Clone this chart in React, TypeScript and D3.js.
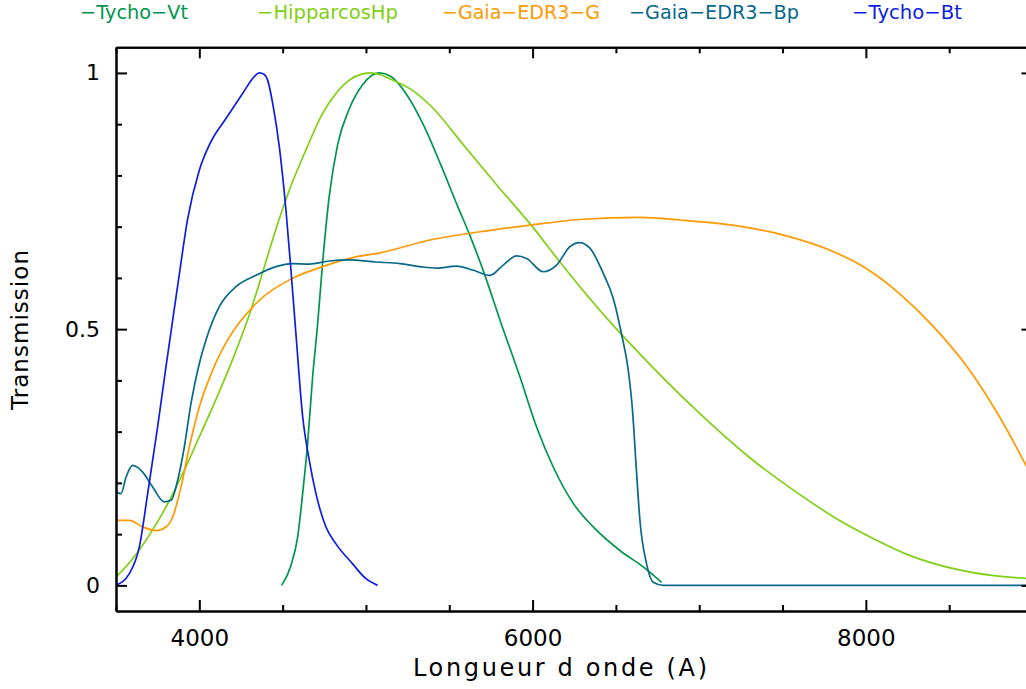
import React, { useEffect, useRef } from "react";
import * as d3 from "d3";

type Pt = [number, number];

// wavelength (A), transmission
const tychoVt: Pt[] = [
  [4494, 0], [4550, 0.039], [4590, 0.094], [4620, 0.179], [4650, 0.277], [4680, 0.407],
  [4710, 0.51], [4740, 0.63], [4780, 0.76], [4830, 0.86], [4900, 0.93], [4980, 0.977],
  [5080, 1.0], [5150, 0.993], [5250, 0.955], [5350, 0.895], [5450, 0.82], [5550, 0.74],
  [5620, 0.686], [5714, 0.605], [5804, 0.518], [5924, 0.407], [6024, 0.309], [6124, 0.231],
  [6244, 0.16], [6364, 0.114], [6524, 0.068], [6664, 0.036], [6774, 0.006],
];

const hipparcosHp: Pt[] = [
  [3500, 0.016], [3600, 0.052], [3700, 0.098], [3800, 0.153], [3900, 0.218], [4000, 0.29],
  [4100, 0.363], [4200, 0.441], [4300, 0.528], [4400, 0.632], [4440, 0.675], [4540, 0.771],
  [4640, 0.85], [4740, 0.921], [4820, 0.96], [4900, 0.986], [4980, 0.998], [5030, 1.0],
  [5080, 0.997], [5160, 0.986], [5284, 0.965], [5394, 0.934], [5594, 0.856], [5794, 0.778],
  [5994, 0.702], [6164, 0.631], [6454, 0.518], [6564, 0.479], [7004, 0.335], [7300, 0.25],
  [7600, 0.178], [7850, 0.125], [8064, 0.088], [8250, 0.06], [8404, 0.043], [8644, 0.025],
  [8944, 0.014], [9000, 0.013],
];

const gaiaG: Pt[] = [
  [3500, 0.127], [3580, 0.127], [3660, 0.114], [3740, 0.107], [3800, 0.114], [3840, 0.133],
  [3890, 0.192], [3940, 0.27], [4000, 0.348], [4080, 0.42], [4170, 0.479], [4340, 0.55],
  [4540, 0.596], [4740, 0.622], [4940, 0.641], [5084, 0.649], [5384, 0.674], [5684, 0.69],
  [5984, 0.703], [6284, 0.714], [6644, 0.718], [6884, 0.713], [7200, 0.703], [7500, 0.684],
  [7800, 0.652], [8000, 0.619], [8200, 0.57], [8400, 0.507], [8600, 0.43], [8800, 0.33],
  [9000, 0.21],
];

const gaiaBp: Pt[] = [
  [3500, 0.182], [3530, 0.179], [3560, 0.211], [3600, 0.234], [3660, 0.221], [3720, 0.192],
  [3790, 0.163], [3830, 0.166], [3870, 0.205], [3910, 0.27], [3950, 0.355], [4000, 0.433],
  [4040, 0.479], [4120, 0.544], [4220, 0.583], [4340, 0.605], [4460, 0.622], [4560, 0.628],
  [4660, 0.627], [4780, 0.633], [4900, 0.635], [5060, 0.631], [5204, 0.628], [5324, 0.622],
  [5424, 0.619], [5544, 0.623], [5644, 0.615], [5744, 0.605], [5824, 0.625], [5904, 0.643],
  [5964, 0.638], [6064, 0.612], [6144, 0.625], [6224, 0.661], [6280, 0.669], [6344, 0.658],
  [6424, 0.609], [6484, 0.56], [6534, 0.49], [6574, 0.42], [6600, 0.34], [6620, 0.24],
  [6644, 0.127], [6684, 0.042], [6724, 0.006], [6784, 0], [9000, 0],
];

const tychoBt: Pt[] = [
  [3500, 0], [3580, 0.023], [3640, 0.075], [3690, 0.179], [3750, 0.31], [3800, 0.427],
  [3840, 0.517], [3880, 0.607], [3930, 0.715], [4000, 0.81], [4070, 0.866], [4160, 0.911],
  [4260, 0.96], [4330, 0.993], [4360, 1.0], [4390, 0.997], [4410, 0.986], [4440, 0.941],
  [4480, 0.856], [4520, 0.732], [4550, 0.615], [4580, 0.49], [4620, 0.33], [4660, 0.244],
  [4700, 0.179], [4760, 0.114], [4820, 0.081], [4920, 0.042], [5000, 0.013], [5070, 0],
];

const seriesNames = ["Tycho-Vt", "HipparcosHp", "Gaia-EDR3-G", "Gaia-EDR3-Bp", "Tycho-Bt"];
const seriesData = [tychoVt, hipparcosHp, gaiaG, gaiaBp, tychoBt];
const seriesColors = ["#00954e", "#7fd012", "#ff9900", "#07688a", "#0c1ee0"];

const xMajor = [4000, 6000, 8000];
const xMinor = [3500, 4500, 5000, 5500, 6500, 7000, 7500, 8500, 9000];
const yMajor = [0, 0.5, 1];
const yMinor = [0.1, 0.2, 0.3, 0.4, 0.6, 0.7, 0.8, 0.9];

const App = () => {
  const ref = useRef<SVGSVGElement>(null);

  useEffect(() => {
    const svg = d3.select(ref.current);
    svg.selectAll("*").remove();
    const font = "'DejaVu Sans', sans-serif";

    const x = d3.scaleLinear().domain([3500, 9000]).range([116, 1032.5]);
    const y = d3.scaleLinear().domain([-0.05, 1.05]).range([611, 47.3]);

    // curves
    const line = d3.line<Pt>()
      .x(d => x(d[0]))
      .y(d => y(d[1]))
      .curve(d3.curveMonotoneX);
    seriesData.forEach((data, i) => {
      svg.append("path")
        .datum(data)
        .attr("d", line)
        .attr("fill", "none")
        .attr("stroke", seriesColors[i])
        .attr("stroke-width", 1.7);
    });

    // frame + ticks
    const styleAxis = (g: any) => {
      g.selectAll("path").attr("stroke", "#000").attr("stroke-width", 2);
      g.selectAll("line").attr("stroke", "#000").attr("stroke-width", 2);
      g.selectAll("text").attr("font-family", font).attr("fill", "#000");
    };
    const noLabel = () => "";

    svg.append("g").attr("transform", `translate(0,${y(-0.05)})`)
      .call(d3.axisBottom(x).tickValues(xMajor).tickSize(-11).tickSizeOuter(0).tickPadding(19).tickFormat(d3.format("d")))
      .call(styleAxis)
      .selectAll("text").attr("font-size", 23);
    svg.append("g").attr("transform", `translate(0,${y(-0.05)})`)
      .call(d3.axisBottom(x).tickValues(xMinor).tickSize(-6).tickSizeOuter(0).tickFormat(noLabel))
      .call(styleAxis);
    svg.append("g").attr("transform", `translate(0,${y(1.05)})`)
      .call(d3.axisTop(x).tickValues(xMajor).tickSize(-11).tickSizeOuter(0).tickFormat(noLabel))
      .call(styleAxis);
    svg.append("g").attr("transform", `translate(0,${y(1.05)})`)
      .call(d3.axisTop(x).tickValues(xMinor).tickSize(-6).tickSizeOuter(0).tickFormat(noLabel))
      .call(styleAxis);

    svg.append("g").attr("transform", `translate(${x(3500)},0)`)
      .call(d3.axisLeft(y).tickValues(yMajor).tickSize(-11).tickSizeOuter(0).tickPadding(16).tickFormat(d => String(d)))
      .call(styleAxis)
      .selectAll("text").attr("font-size", 22);
    svg.append("g").attr("transform", `translate(${x(3500)},0)`)
      .call(d3.axisLeft(y).tickValues(yMinor).tickSize(-6).tickSizeOuter(0).tickFormat(noLabel))
      .call(styleAxis);
    svg.append("g").attr("transform", `translate(${x(9000)},0)`)
      .call(d3.axisRight(y).tickValues(yMajor).tickSize(-11).tickSizeOuter(0).tickFormat(noLabel))
      .call(styleAxis);
    svg.append("g").attr("transform", `translate(${x(9000)},0)`)
      .call(d3.axisRight(y).tickValues(yMinor).tickSize(-6).tickSizeOuter(0).tickFormat(noLabel))
      .call(styleAxis);

    // axis titles
    svg.append("text")
      .attr("x", 413).attr("y", 676)
      .attr("font-family", font).attr("font-size", 24)
      .attr("textLength", 294).attr("lengthAdjust", "spacing")
      .text("Longueur d onde (A)");
    svg.append("text")
      .attr("transform", "translate(28,410) rotate(-90)")
      .attr("font-family", font).attr("font-size", 23)
      .attr("textLength", 160).attr("lengthAdjust", "spacing")
      .text("Transmission");

    // legend
    const legendX = [80, 257, 442, 629, 852];
    const legendW = [108, 141, 158, 170, 110];
    seriesNames.forEach((name, i) => {
      svg.append("text")
        .attr("x", legendX[i]).attr("y", 19)
        .attr("font-family", font).attr("font-size", 20)
        .attr("fill", seriesColors[i])
        .attr("textLength", legendW[i]).attr("lengthAdjust", "spacingAndGlyphs")
        .text("\u2212" + name.replace(/-/g, "\u2212"));
    });
  }, []);

  return (
    <div style={{ position: "absolute", left: 0, top: 0 }}>
      <svg ref={ref} width={1026} height={689} style={{ display: "block", background: "#fff" }} />
    </div>
  );
};

export default App;
